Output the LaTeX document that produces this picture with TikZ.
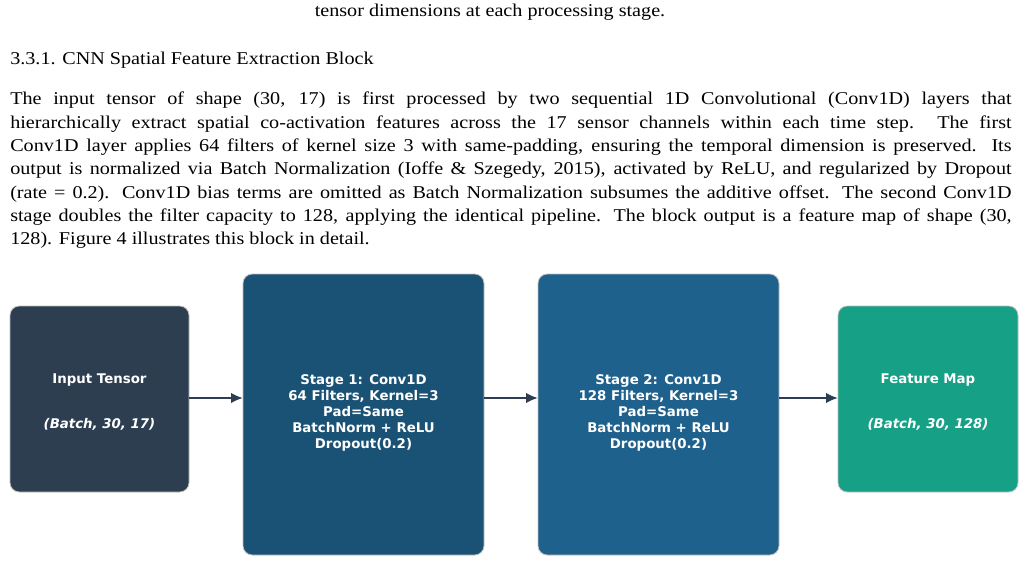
\documentclass[tikz,border=0pt]{standalone}
\usepackage{fontspec}
\setmainfont{Liberation Serif}
\newfontfamily\widefont[FakeStretch=1.12]{Liberation Serif}
\newfontfamily\boxfont{DejaVu Sans}
\usetikzlibrary{arrows.meta}

\definecolor{inputcol}{HTML}{2C3E50}
\definecolor{stageone}{HTML}{1A5276}
\definecolor{stagetwo}{HTML}{1F618D}
\definecolor{featcol}{HTML}{16A085}

\tikzset{
  block/.style={draw=gray!50, line width=0.6pt, rounded corners=7pt, inner sep=0pt},
  blocktext/.style={text=white, font=\boxfont\bfseries\fontsize{10}{12}\selectfont, align=center},
  flow/.style={-{Latex[length=9pt,width=8pt]}, line width=2pt, draw=inputcol},
}

\begin{document}
\begin{tikzpicture}[x=0.75pt,y=-0.75pt]
        \useasboundingbox (0,0) rectangle (1026,564);
        \fill[white] (0,0) rectangle (1026,564);

        % Text above the figure
        \node (caption) at (490,12) {\widefont\fontsize{13.5}{17}\selectfont tensor dimensions at each processing stage.};
        \node[anchor=west, inner sep=0pt] (heading) at (10,60) {\widefont\fontsize{13.5}{17}\selectfont 3.3.1. CNN Spatial Feature Extraction Block};
        \node[anchor=north west, inner sep=0pt] (para) at (10,92) {\parbox{751pt}{\widefont\fontsize{13.5}{17.5}\selectfont
          The input tensor of shape (30, 17) is first processed by two sequential 1D Convolutional (Conv1D) layers that\linebreak
          hierarchically extract spatial co-activation features across the 17 sensor channels within each time step. The first\linebreak
          Conv1D layer applies 64 filters of kernel size 3 with same-padding, ensuring the temporal dimension is preserved. Its\linebreak
          output is normalized via Batch Normalization (Ioffe \& Szegedy, 2015), activated by ReLU, and regularized by Dropout\linebreak
          (rate = 0.2). Conv1D bias terms are omitted as Batch Normalization subsumes the additive offset. The second Conv1D\linebreak
          stage doubles the filter capacity to 128, applying the identical pipeline. The block output is a feature map of shape (30,\linebreak
          128). Figure 4 illustrates this block in detail.}};

        % Blocks
        \draw[block, fill=inputcol] (10,306) rectangle (189,492);
        \draw[block, fill=stageone] (243,274) rectangle (484,555);
        \draw[block, fill=stagetwo] (538,274) rectangle (779,555);
        \draw[block, fill=featcol] (838,306) rectangle (1018,492);

        \coordinate (inR) at (189,398);
        \coordinate (s1L) at (243,398);
        \coordinate (s1R) at (484,398);
        \coordinate (s2L) at (538,398);
        \coordinate (s2R) at (779,398);
        \coordinate (ftL) at (838,398);

        % Labels
        \node[blocktext] (inname) at (99.5,380) {Input Tensor};
        \node[blocktext] (inshape) at (99.5,424) {\itshape (Batch, 30, 17)};
        \node[blocktext] (stage1) at (363.5,413) {Stage 1: Conv1D\\64 Filters, Kernel=3\\Pad=Same\\BatchNorm + ReLU\\Dropout(0.2)};
        \node[blocktext] (stage2) at (658.5,413) {Stage 2: Conv1D\\128 Filters, Kernel=3\\Pad=Same\\BatchNorm + ReLU\\Dropout(0.2)};
        \node[blocktext] (ftname) at (928,380) {Feature Map};
        \node[blocktext] (ftshape) at (928,424) {\itshape (Batch, 30, 128)};

        % Arrows
        \draw[flow] (inR) -- (s1L);
        \draw[flow] (s1R) -- (s2L);
        \draw[flow] (s2R) -- (ftL);
\end{tikzpicture}
\end{document}
